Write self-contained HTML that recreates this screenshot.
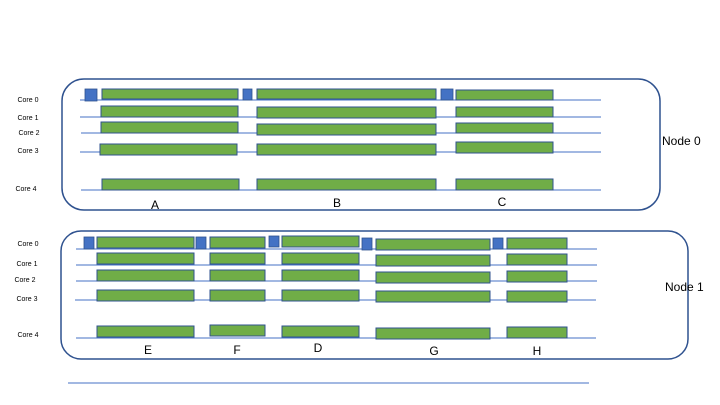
<!DOCTYPE html>
<html><head><style>
html,body{margin:0;padding:0;background:#fff;}
svg{display:block;}
text{font-family:"Liberation Sans",sans-serif;fill:#000;}
.g{fill:#70ad47;stroke:#2f528f;stroke-width:1;}
.b{fill:#4472c4;stroke:#2f528f;stroke-width:0.8;}
.l{stroke:#4472c4;stroke-width:1;}
.c{font-size:7px;}
</style></head><body>
<svg width="720" height="405" viewBox="0 0 720 405" xmlns="http://www.w3.org/2000/svg">
<!-- Node 0 -->
<rect x="62" y="79" width="598" height="131" rx="22" fill="none" stroke="#2f528f" stroke-width="1.5"/>
<g class="l">
<line x1="80" y1="100" x2="601" y2="100"/>
<line x1="80" y1="117" x2="601" y2="117"/>
<line x1="81" y1="133" x2="601" y2="133"/>
<line x1="80" y1="152" x2="601" y2="152"/>
<line x1="81" y1="190" x2="601" y2="190"/>
</g>
<rect class="b" x="85" y="89" width="12" height="12"/>
<rect class="b" x="243" y="89" width="9" height="11"/>
<rect class="b" x="441" y="89" width="12" height="11"/>
<rect class="g" x="102" y="89" width="136" height="10"/>
<rect class="g" x="257" y="89" width="179" height="10"/>
<rect class="g" x="456" y="90" width="97" height="10"/>
<rect class="g" x="101" y="106" width="137" height="11"/>
<rect class="g" x="257" y="107" width="179" height="11"/>
<rect class="g" x="456" y="107" width="97" height="10"/>
<rect class="g" x="101" y="122" width="137" height="11"/>
<rect class="g" x="257" y="124" width="179" height="11"/>
<rect class="g" x="456" y="123" width="97" height="10"/>
<rect class="g" x="100" y="144" width="137" height="11"/>
<rect class="g" x="257" y="144" width="179" height="11"/>
<rect class="g" x="456" y="142" width="97" height="11"/>
<rect class="g" x="102" y="179" width="137" height="11"/>
<rect class="g" x="257" y="179" width="179" height="11"/>
<rect class="g" x="456" y="179" width="97" height="11"/>
<text x="155" y="209" font-size="12" text-anchor="middle">A</text>
<text x="337" y="207" font-size="12" text-anchor="middle">B</text>
<text x="502" y="206" font-size="12" text-anchor="middle">C</text>
<text x="662" y="145" font-size="12">Node 0</text>
<g class="c" text-anchor="middle">
<text x="28" y="102">Core 0</text>
<text x="28" y="120">Core 1</text>
<text x="29" y="135">Core 2</text>
<text x="28" y="153">Core 3</text>
<text x="26" y="191">Core 4</text>
<text x="28" y="246">Core 0</text>
<text x="27" y="266">Core 1</text>
<text x="25" y="282">Core 2</text>
<text x="27" y="301">Core 3</text>
<text x="28" y="337">Core 4</text>
</g>
<!-- Node 1 -->
<rect x="61" y="231" width="627" height="128" rx="20" fill="none" stroke="#2f528f" stroke-width="1.5"/>
<g class="l">
<line x1="76" y1="249" x2="597" y2="249"/>
<line x1="76" y1="265" x2="597" y2="265"/>
<line x1="76" y1="281" x2="597" y2="281"/>
<line x1="75" y1="300" x2="596" y2="300"/>
<line x1="76" y1="338" x2="596" y2="338"/>
</g>
<rect class="b" x="84" y="237" width="10" height="12"/>
<rect class="b" x="196" y="237" width="10" height="12"/>
<rect class="b" x="269" y="236" width="10" height="11"/>
<rect class="b" x="362" y="238" width="10" height="12"/>
<rect class="b" x="493" y="238" width="10" height="11"/>
<rect class="g" x="97" y="237" width="97" height="11"/>
<rect class="g" x="210" y="237" width="55" height="11"/>
<rect class="g" x="282" y="236" width="77" height="11"/>
<rect class="g" x="376" y="239" width="114" height="11"/>
<rect class="g" x="507" y="238" width="60" height="11"/>
<rect class="g" x="97" y="253" width="97" height="11"/>
<rect class="g" x="210" y="253" width="55" height="11"/>
<rect class="g" x="282" y="253" width="77" height="11"/>
<rect class="g" x="376" y="255" width="114" height="11"/>
<rect class="g" x="507" y="254" width="60" height="11"/>
<rect class="g" x="97" y="270" width="97" height="11"/>
<rect class="g" x="210" y="270" width="55" height="11"/>
<rect class="g" x="282" y="270" width="77" height="11"/>
<rect class="g" x="376" y="272" width="114" height="11"/>
<rect class="g" x="507" y="271" width="60" height="11"/>
<rect class="g" x="97" y="290" width="97" height="11"/>
<rect class="g" x="210" y="290" width="55" height="11"/>
<rect class="g" x="282" y="290" width="77" height="11"/>
<rect class="g" x="376" y="291" width="114" height="11"/>
<rect class="g" x="507" y="291" width="60" height="11"/>
<rect class="g" x="97" y="326" width="97" height="11"/>
<rect class="g" x="210" y="325" width="55" height="11"/>
<rect class="g" x="282" y="326" width="77" height="11"/>
<rect class="g" x="376" y="328" width="114" height="11"/>
<rect class="g" x="507" y="327" width="60" height="11"/>
<text x="148" y="354" font-size="12" text-anchor="middle">E</text>
<text x="237" y="354" font-size="12" text-anchor="middle">F</text>
<text x="318" y="352" font-size="12" text-anchor="middle">D</text>
<text x="434" y="355" font-size="12" text-anchor="middle">G</text>
<text x="537" y="355" font-size="12" text-anchor="middle">H</text>
<text x="665" y="291" font-size="12">Node 1</text>
<line x1="68" y1="383" x2="589" y2="383" class="l"/>
</svg>
</body></html>
